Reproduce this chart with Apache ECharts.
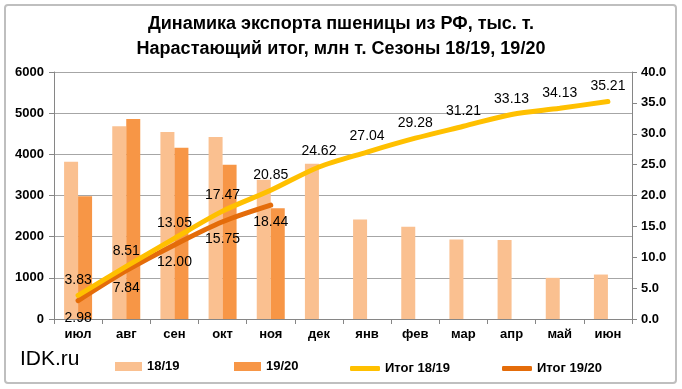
<!DOCTYPE html>
<html><head><meta charset="utf-8">
<script src="https://cdn.jsdelivr.net/npm/echarts@6/dist/echarts.min.js"></script>
<style>html,body{margin:0;padding:0;background:#fff}#c{width:682px;height:389px}</style>
</head><body><div id="c"></div>
<script>
var months = ['июл','авг','сен','окт','ноя','дек','янв','фев','мар','апр','май','июн'];
var bars1819 = [3820,4680,4540,4420,3380,3770,2420,2240,1930,1920,1000,1080];
var bars1920 = [2980,4860,4160,3750,2690,null,null,null,null,null,null,null];
var total1819 = [3.83,8.51,13.05,17.47,20.85,24.62,27.04,29.28,31.21,33.13,34.13,35.21];
var total1920 = [2.98,7.84,12.00,15.75,18.44,null,null,null,null,null,null,null];
var leftTicks = [0,1000,2000,3000,4000,5000,6000];
var rightTicks = [0,5,10,15,20,25,30,35,40];

var FF = 'Liberation Sans, Arial, sans-serif';
var chart = echarts.init(document.getElementById('c'), null, {renderer:'canvas'});
chart.setOption({
  animation:false,
  textStyle:{fontFamily:FF},
  title:{
    text:'Динамика экспорта пшеницы из РФ, тыс. т.\nНарастающий итог, млн т. Сезоны 18/19, 19/20',
    left:'center', top:7,
    textStyle:{fontFamily:FF, fontWeight:'bold', fontSize:18, lineHeight:25, color:'#000'}
  },
  graphic:[
    {type:'rect', shape:{x:5,y:5,width:671,height:378,r:3}, style:{fill:null, stroke:'#bfbfbf', lineWidth:2}, silent:true},
    {type:'text', left:20, top:349, style:{text:'IDK.ru', fontFamily:FF, fontSize:21, fill:'#000'}}
  ],
  legend:[
    {data:[{name:'18/19', icon:'rect'}], left:110, top:355, itemWidth:27, itemHeight:9, itemGap:4, textStyle:{fontFamily:FF,fontSize:13,fontWeight:'bold',color:'#000'}},
    {data:[{name:'19/20', icon:'rect'}], left:229, top:355, itemWidth:27, itemHeight:9, itemGap:4, textStyle:{fontFamily:FF,fontSize:13,fontWeight:'bold',color:'#000'}},
    {data:[{name:'Итог 18/19', icon:'roundRect'}], left:345, top:357, itemWidth:30, itemHeight:5, itemGap:2, textStyle:{fontFamily:FF,fontSize:13,fontWeight:'bold',color:'#000'}},
    {data:[{name:'Итог 19/20', icon:'roundRect'}], left:497, top:357, itemWidth:30, itemHeight:5, itemGap:2, textStyle:{fontFamily:FF,fontSize:13,fontWeight:'bold',color:'#000'}}
  ],
  grid:{left:54, right:50, top:72, bottom:70},
  xAxis:{
    type:'category', data:months,
    axisLine:{lineStyle:{color:'#868686'}},
    axisTick:{show:true, length:5, lineStyle:{color:'#868686'}},
    axisLabel:{fontFamily:FF, fontSize:13, fontWeight:'bold', color:'#000', margin:9}
  },
  yAxis:[
    {type:'value', min:leftTicks[0], max:leftTicks[leftTicks.length-1], interval:1000,
     axisLine:{show:true, lineStyle:{color:'#868686'}},
     axisTick:{show:true, length:5, lineStyle:{color:'#868686'}},
     splitLine:{lineStyle:{color:'#a6a6a6', width:1}},
     axisLabel:{fontFamily:FF, fontSize:13, fontWeight:'bold', color:'#000', margin:10,
       formatter:function(v){return String(v);}}},
    {type:'value', min:rightTicks[0], max:rightTicks[rightTicks.length-1], interval:5,
     axisLine:{show:true, lineStyle:{color:'#868686'}},
     axisTick:{show:true, length:5, lineStyle:{color:'#868686'}},
     splitLine:{show:false},
     axisLabel:{fontFamily:FF, fontSize:13, fontWeight:'bold', color:'#000', margin:9,
       formatter:function(v){return v.toFixed(1);}}}
  ],
  series:[
    {name:'18/19', type:'bar', data:bars1819, barWidth:14, barGap:'0%', itemStyle:{color:'#FAC090'}, z:2},
    {name:'19/20', type:'bar', data:bars1920, barWidth:14, barGap:'0%', itemStyle:{color:'#F79646'}, z:2},
    {name:'Итог 18/19', type:'line', yAxisIndex:1, data:total1819, smooth:0.3,
     symbol:'circle', symbolSize:1, showSymbol:true, itemStyle:{color:'#FFC000'},
     lineStyle:{color:'#FFC000', width:5, cap:'round'}, z:5,
     label:{show:true, position:'top', distance:8, formatter:function(p){return p.value.toFixed(2);}, fontFamily:FF, fontSize:14, color:'#000'}},
    {name:'Итог 19/20', type:'line', yAxisIndex:1, data:total1920, smooth:0.3,
     symbol:'circle', symbolSize:1, showSymbol:true, itemStyle:{color:'#E46C0A'},
     lineStyle:{color:'#E46C0A', width:5, cap:'round'}, z:4,
     label:{show:true, position:'bottom', distance:10, formatter:function(p){return p.value==null?'':p.value.toFixed(2);}, fontFamily:FF, fontSize:14, color:'#000'}}
  ]
});
</script></body></html>
